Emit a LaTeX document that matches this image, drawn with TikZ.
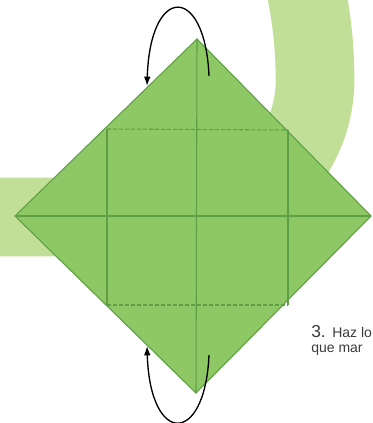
\documentclass[tikz,border=0pt]{standalone}
\usepackage{fontspec}
\setmainfont{Liberation Sans}
\usetikzlibrary{arrows.meta,positioning}

\definecolor{swirl}{HTML}{C2DF98}
\definecolor{paper}{HTML}{8DC864}
\definecolor{creaseline}{HTML}{5E9E45}
\definecolor{caption}{HTML}{3A3A3A}

\begin{document}
\begin{tikzpicture}[
    x=0.75pt, y=-0.75pt,
    band/.style={draw=swirl, line width=59pt},
    sheet/.style={fill=paper, draw=creaseline, line width=0.8pt, line join=miter},
    crease/.style={draw=creaseline, line width=0.8pt},
    valley/.style={crease, dash pattern=on 3pt off 1.5pt},
    turn/.style={line width=1pt, -{Latex[length=7pt,width=5pt]}},
    caption/.style={text=caption, inner sep=0pt, anchor=base west}
]

\useasboundingbox (0,0) rectangle (372,423);
\clip (0,0) rectangle (372,423);

% --- Background swirl ---
\draw[band] (293.5,-59.6) -- (302.2,-25.7)
    arc[start angle=-25, end angle=0, x radius=137, y radius=250]
    arc[start angle=0, end angle=90, radius=137] -- (-30,217);

% --- Square sheet ---
\coordinate (top) at (197,39);
\coordinate (left) at (15,216);
\coordinate (right) at (371,216);
\coordinate (bottom) at (196,393);
\path[sheet] (top) -- (right) -- (bottom) -- (left) -- cycle;

% --- Folds ---
\coordinate (ul) at (107,129);
\coordinate (ur) at (288,130);
\coordinate (ll) at (107,305);
\coordinate (lr) at (288,305);
\draw[crease] (top) -- (bottom);
\draw[crease] (left) -- (right);
\draw[crease] (ul) -- (ll);
\draw[crease] (ur) -- (lr);
\draw[valley] (ul) -- (ur);
\draw[valley] (ll) -- (lr);

% --- Turn-over arrows ---
\coordinate (tailtop) at (209,76);
\coordinate (headtop) at (147,86);
\coordinate (tailbot) at (209,355);
\coordinate (headbot) at (147,346);
\draw[turn] (tailtop) .. controls (205,-16) and (150,-16) .. (headtop);
\draw[turn] (tailbot) .. controls (205,446) and (150,446) .. (headbot);

% --- Caption ---
\node[caption, font=\fontsize{13}{13}\selectfont] (num) at (311,337) {3.};
\node[caption, font=\fontsize{10.5}{11}\selectfont, right=4.5pt of num.base east, anchor=base west] (line1) {Haz lo};
\node[caption, font=\fontsize{10.5}{11}\selectfont] (line2) at (311,352) {que mar};

\end{tikzpicture}
\end{document}
